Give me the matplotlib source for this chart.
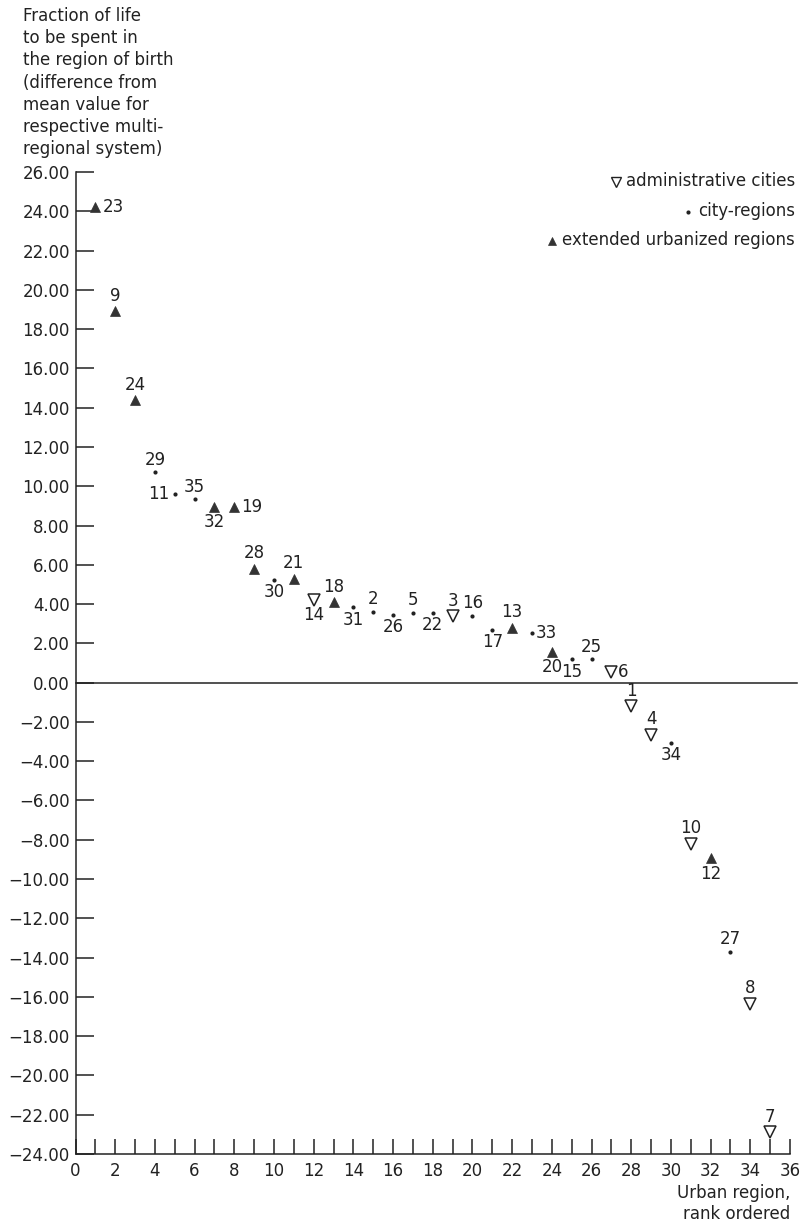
import matplotlib
matplotlib.use("Agg")
import matplotlib.pyplot as plt
from matplotlib.lines import Line2D

plt.rcParams['font.family'] = ['DejaVu Sans']

# ---- data ----
ranks = list(range(1, 36))
values = [24.2, 18.9, 14.4, 10.7, 9.6, 9.35, 8.95, 8.95, 5.8, 5.25,
          5.3, 4.2, 4.1, 3.85, 3.6, 3.45, 3.55, 3.55, 3.4, 3.4,
          2.7, 2.8, 2.55, 1.55, 1.2, 1.2, 0.55, -1.2, -2.65, -3.05,
          -8.2, -8.95, -13.7, -16.35, -22.9]
region_ids = [23, 9, 24, 29, 11, 35, 32, 19, 28, 30, 21, 14, 18, 31, 2, 26, 5, 22,
              3, 16, 17, 13, 33, 20, 15, 25, 6, 1, 4, 34, 10, 12, 27, 8, 7]
# A = administrative city, C = city-region, E = extended urbanized region
region_types = ['E', 'E', 'E', 'C', 'C', 'C', 'E', 'E', 'E', 'C', 'E', 'A', 'E', 'C',
                'C', 'C', 'C', 'C', 'A', 'C', 'C', 'E', 'C', 'E', 'C', 'C', 'A', 'A',
                'A', 'C', 'A', 'E', 'C', 'A', 'A']
label_pos = ['r', 'a', 'a', 'a', 'l', 'a', 'b', 'r', 'a', 'b', 'a', 'b', 'a', 'b',
             'a', 'b', 'a', 'b', 'a', 'a', 'b', 'a', 'r', 'b', 'b', 'a', 'r', 'a',
             'a', 'b', 'a', 'b', 'a', 'a', 'a']
legend_labels = ['administrative cities', 'city-regions', 'extended urbanized regions']
legend_types = ['A', 'C', 'E']
yticks = list(range(-24, 27, 2))
xticks = list(range(0, 37))

ink = '#222222'
W, H = 801, 1226

fig = plt.figure(figsize=(W / 100, H / 100), dpi=100)
ax = fig.add_axes([75.5 / W, 1 - 1154 / H, (790 - 75.5) / W, (1154 - 172) / H])
ax.set_xlim(0, 36)
ax.set_ylim(-24, 26)

for s in ['top', 'right']:
    ax.spines[s].set_visible(False)
for s in ['left', 'bottom']:
    ax.spines[s].set_color(ink)
    ax.spines[s].set_linewidth(1.1)

ax.axhline(0, xmin=0, xmax=36.35 / 36, color=ink, lw=1.1, clip_on=False)

ax.set_yticks(yticks)
ax.set_yticklabels([f"{v:.2f}".replace('-', '\u2212') for v in yticks])
ax.set_xticks(xticks)
ax.set_xticklabels([str(v) if v % 2 == 0 else '' for v in xticks])
ax.tick_params(axis='y', direction='in', length=13, width=1.1, pad=4,
               labelsize=12, colors=ink)
ax.tick_params(axis='x', direction='in', length=11, width=1.1, pad=6,
               labelsize=12, colors=ink)

style = {
    'A': dict(marker='v', ms=8, mfc='white', mec=ink, mew=1.1),
    'C': dict(marker='o', ms=3, mfc=ink, mec=ink, mew=0),
    'E': dict(marker='^', ms=7.5, mfc='#333333', mec='#333333', mew=0.5),
}
for x, y, t in zip(ranks, values, region_types):
    ax.plot([x], [y], linestyle='none', clip_on=False, **style[t])

for x, y, rid, t, p in zip(ranks, values, region_ids, region_types, label_pos):
    big = t != 'C'
    vd = 11 if big else 9
    if p == 'a':
        off, ha = (0, vd), 'center'
    elif p == 'b':
        off, ha = (0, -vd), 'center'
    elif p == 'r':
        off, ha = (5 if big else 3, 0), 'left'
    else:
        off, ha = (-4, 0), 'right'
    ax.annotate(str(rid), (x, y), xytext=off, textcoords='offset points',
                ha=ha, va='center', fontsize=12, color=ink)

fig.text(23 / W, 1 - 7 / H,
         "Fraction of life\nto be spent in\nthe region of birth\n(difference from\n"
         "mean value for\nrespective multi-\nregional system)",
         ha='left', va='top', fontsize=12, linespacing=1.3, color=ink)

# legend in the top-right corner: text plus a small marker glyph to its left
leg_y = [181, 211, 240]
leg_texts = []
for lab, yy in zip(legend_labels, leg_y):
    leg_texts.append(fig.text(795 / W, 1 - yy / H, lab, ha='right', va='center',
                              fontsize=12, color=ink))
fig.canvas.draw()
r = fig.canvas.get_renderer()
leg_style = {
    'A': dict(marker='v', ms=6.5, mfc='white', mec=ink, mew=1.0),
    'C': dict(marker='o', ms=3, mfc=ink, mec=ink, mew=0),
    'E': dict(marker='^', ms=6, mfc='#333333', mec='#333333', mew=0.5),
}
for t, tt, yy in zip(legend_types, leg_texts, leg_y):
    bb = tt.get_window_extent(r)
    mx = (bb.x0 - 10) / W
    fig.add_artist(Line2D([mx], [1 - (yy + 1) / H], transform=fig.transFigure,
                          linestyle='none', **leg_style[t]))

fig.text(790 / W, 1 - 1184 / H, "Urban region,\nrank ordered",
         ha='right', va='top', multialignment='right', fontsize=12,
         linespacing=1.2, color=ink)

fig.savefig('out.png', dpi=100, facecolor='white')
